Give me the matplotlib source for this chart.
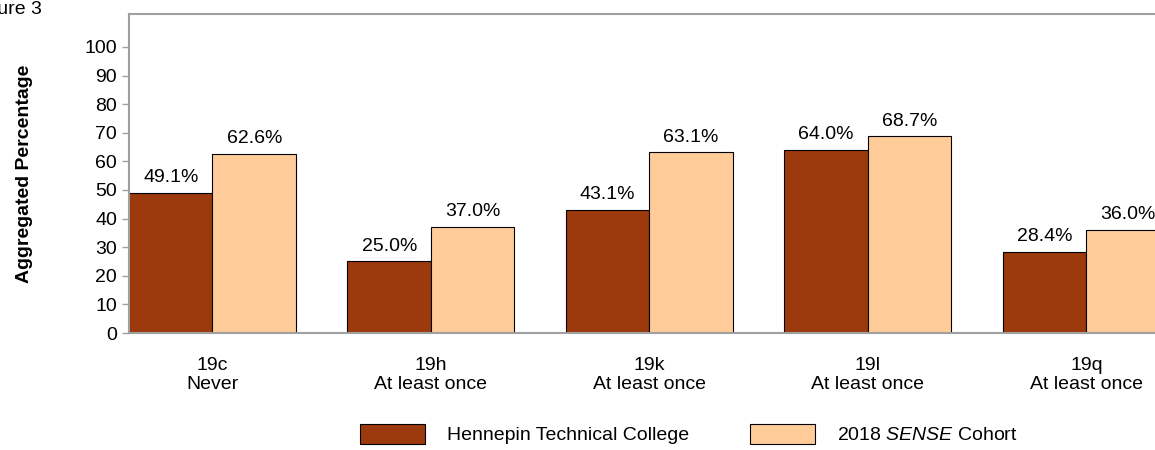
import matplotlib.pyplot as plt
from matplotlib.patches import Patch
import numpy as np

plt.rcParams['font.family'] = ['Liberation Sans', 'DejaVu Sans']
plt.rcParams['mathtext.fontset'] = 'custom'
plt.rcParams['mathtext.rm'] = 'Liberation Sans'
plt.rcParams['mathtext.it'] = 'Liberation Sans:italic'

# data
items = ['19c', '19h', '19k', '19l', '19q']
responses = ['Never', 'At least once', 'At least once', 'At least once', 'At least once']
college = [49.1, 25.0, 43.1, 64.0, 28.4]
cohort = [62.6, 37.0, 63.1, 68.7, 36.0]

dark = '#9C3A0E'
light = '#FFCC99'
grey = '#A0A0A0'
fs = 14

fig = plt.figure(figsize=(11.55, 4.5), dpi=100)
ax = fig.add_axes([129 / 1155, 1 - 333 / 450, 1092 / 1155, 319 / 450])

x = np.arange(len(items))
w = 0.382
b1 = ax.bar(x - w / 2, college, w, color=dark, edgecolor='black', linewidth=0.8)
b2 = ax.bar(x + w / 2, cohort, w, color=light, edgecolor='black', linewidth=0.8)

for bars, vals in [(b1, college), (b2, cohort)]:
    for bar, v in zip(bars, vals):
        ax.annotate(f'{v:.1f}%', (bar.get_x() + bar.get_width() / 2, v),
                    xytext=(0, 5), textcoords='offset points',
                    ha='center', va='bottom', fontsize=fs)

ax.set_xlim(-w, 4.616)
ax.set_ylim(0, 111.5)
ax.set_yticks(range(0, 101, 10))
ax.set_xticks(x)
ax.set_xticklabels([f'{a}\n{b}' for a, b in zip(items, responses)], fontsize=fs)
ax.tick_params(axis='x', length=0, pad=17)
ax.tick_params(axis='y', labelsize=fs, length=5, color=grey, width=1)
for s in ['left', 'bottom', 'top']:
    ax.spines[s].set_color(grey)
    ax.spines[s].set_linewidth(1.5)
ax.spines['right'].set_visible(False)

ax.set_ylabel('Aggregated Percentage', fontsize=fs, fontweight='bold')
ax.yaxis.set_label_coords(-0.088, 0.5)

fig.text(-30 / 1155, 1 - 9 / 450, 'Figure 3', fontsize=fs, ha='left', va='center')

handles = [Patch(facecolor=dark, edgecolor='black', linewidth=0.8),
           Patch(facecolor=light, edgecolor='black', linewidth=0.8)]
fig.legend(handles, ['Hennepin Technical College', '2018 $\\it{SENSE}$ Cohort'],
           loc='center left', bbox_to_anchor=(360 / 1155, 1 - 434 / 450),
           ncol=2, frameon=False, fontsize=fs, handlelength=3.35,
           handleheight=1.24, handletextpad=1.13, columnspacing=3.1,
           borderpad=0, borderaxespad=0)

fig.savefig('out.png', dpi=100)
